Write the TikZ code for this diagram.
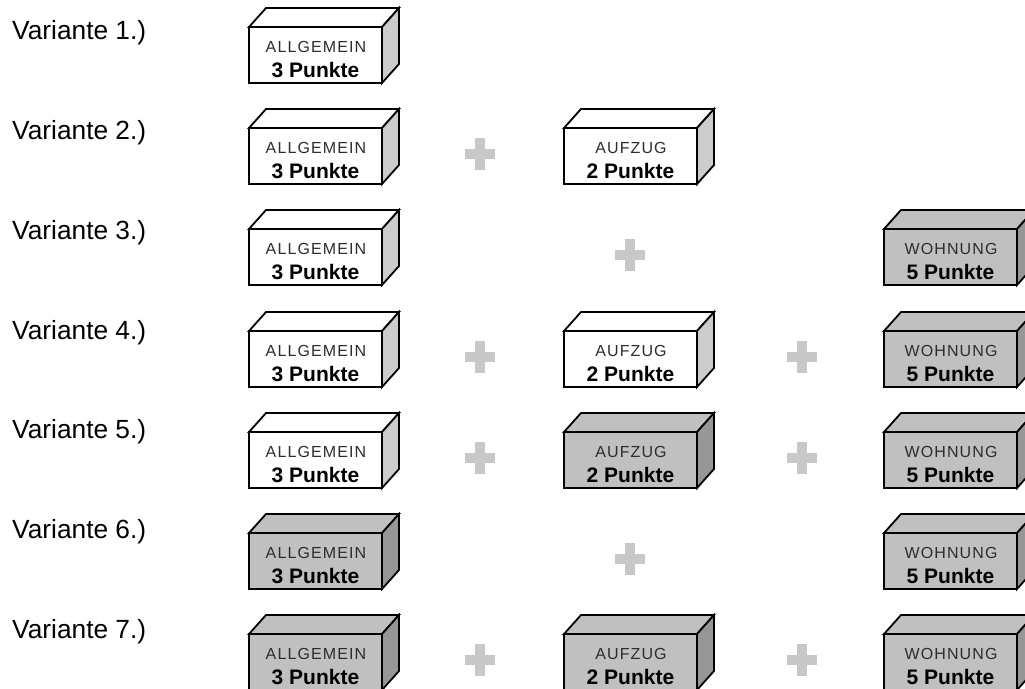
\documentclass[tikz,border=0pt]{standalone}
\usepackage{fontspec}
\setmainfont{Liberation Sans}
\newfontfamily\spacedsans[LetterSpace=7]{Liberation Sans}
\usetikzlibrary{calc}

\definecolor{boxgrey}{RGB}{192,192,192}
\definecolor{sidegrey}{RGB}{150,150,150}
\definecolor{sidelight}{RGB}{204,204,204}
\definecolor{plusgrey}{RGB}{200,200,200}
\definecolor{smalltext}{RGB}{45,45,45}

\tikzset{
  face/.style={draw=black, line width=1.8pt, rectangle, inner sep=0pt, outer sep=0pt,
               minimum width=133pt, minimum height=56pt},
  edge/.style={draw=black, line width=1.8pt},
  caption/.style={inner sep=0pt, anchor=base west, font=\fontsize{26.3}{30}\selectfont},
  kind/.style={inner sep=0pt, anchor=base, text=smalltext, font=\spacedsans\fontsize{16}{19}\selectfont},
  points/.style={inner sep=0pt, anchor=base, font=\bfseries\fontsize{21}{25}\selectfont},
}

% block: name, left x, top y, front/top fill, side fill, kind, points
\newcommand\block[7]{%
  \node[face, fill=#4] (#1) at (#2+66.5,#3+28) {};
  \path[edge, fill=#4] (#1.north west) -- ++(17,-19) -- ++(133,0) -- (#1.north east) -- cycle;
  \path[edge, fill=#5] (#1.north east) -- ++(17,-19) -- ++(0,56) -- (#1.south east) -- cycle;
  \node[kind] (#1-k) at ($(#1.north)+(0.5,25)$) {#6};
  \node[points] (#1-p) at ($(#1.north)+(0,50)$) {#7};
}
% plus sign centred at x,y
\newcommand\plussign[2]{%
  \fill[plusgrey] (#1-15,#2-5) rectangle (#1+15,#2+5);
  \fill[plusgrey] (#1-5,#2-16) rectangle (#1+5,#2+16);
}

\begin{document}
\begin{tikzpicture}[x=1pt,y=-1pt]
\useasboundingbox (0,0) rectangle (1025,688);
\clip (0,0) rectangle (1025,688);

% labels
\node[caption] (v1) at (12,39)  {Variante 1.)};
\node[caption] (v2) at (12,139) {Variante 2.)};
\node[caption] (v3) at (12,239) {Variante 3.)};
\node[caption] (v4) at (12,339) {Variante 4.)};
\node[caption] (v5) at (12,438) {Variante 5.)};
\node[caption] (v6) at (12,538) {Variante 6.)};
\node[caption] (v7) at (12,638) {Variante 7.)};

% row 1
\block{a1}{249}{27}{white}{sidelight}{ALLGEMEIN}{3 Punkte}
% row 2
\block{a2}{249}{128}{white}{sidelight}{ALLGEMEIN}{3 Punkte}
\plussign{480}{154}
\block{b2}{564}{128}{white}{sidelight}{AUFZUG}{2 Punkte}
% row 3
\block{a3}{249}{229}{white}{sidelight}{ALLGEMEIN}{3 Punkte}
\plussign{630}{255}
\block{c3}{884}{229}{boxgrey}{sidegrey}{WOHNUNG}{5 Punkte}
% row 4
\block{a4}{249}{331}{white}{sidelight}{ALLGEMEIN}{3 Punkte}
\plussign{480}{357}
\block{b4}{564}{331}{white}{sidelight}{AUFZUG}{2 Punkte}
\plussign{802}{357}
\block{c4}{884}{331}{boxgrey}{sidegrey}{WOHNUNG}{5 Punkte}
% row 5
\block{a5}{249}{432}{white}{sidelight}{ALLGEMEIN}{3 Punkte}
\plussign{480}{458}
\block{b5}{564}{432}{boxgrey}{sidegrey}{AUFZUG}{2 Punkte}
\plussign{802}{458}
\block{c5}{884}{432}{boxgrey}{sidegrey}{WOHNUNG}{5 Punkte}
% row 6
\block{a6}{249}{533}{boxgrey}{sidegrey}{ALLGEMEIN}{3 Punkte}
\plussign{630}{559}
\block{c6}{884}{533}{boxgrey}{sidegrey}{WOHNUNG}{5 Punkte}
% row 7
\block{a7}{249}{634}{boxgrey}{sidegrey}{ALLGEMEIN}{3 Punkte}
\plussign{480}{660}
\block{b7}{564}{634}{boxgrey}{sidegrey}{AUFZUG}{2 Punkte}
\plussign{802}{660}
\block{c7}{884}{634}{boxgrey}{sidegrey}{WOHNUNG}{5 Punkte}
\end{tikzpicture}
\end{document}
